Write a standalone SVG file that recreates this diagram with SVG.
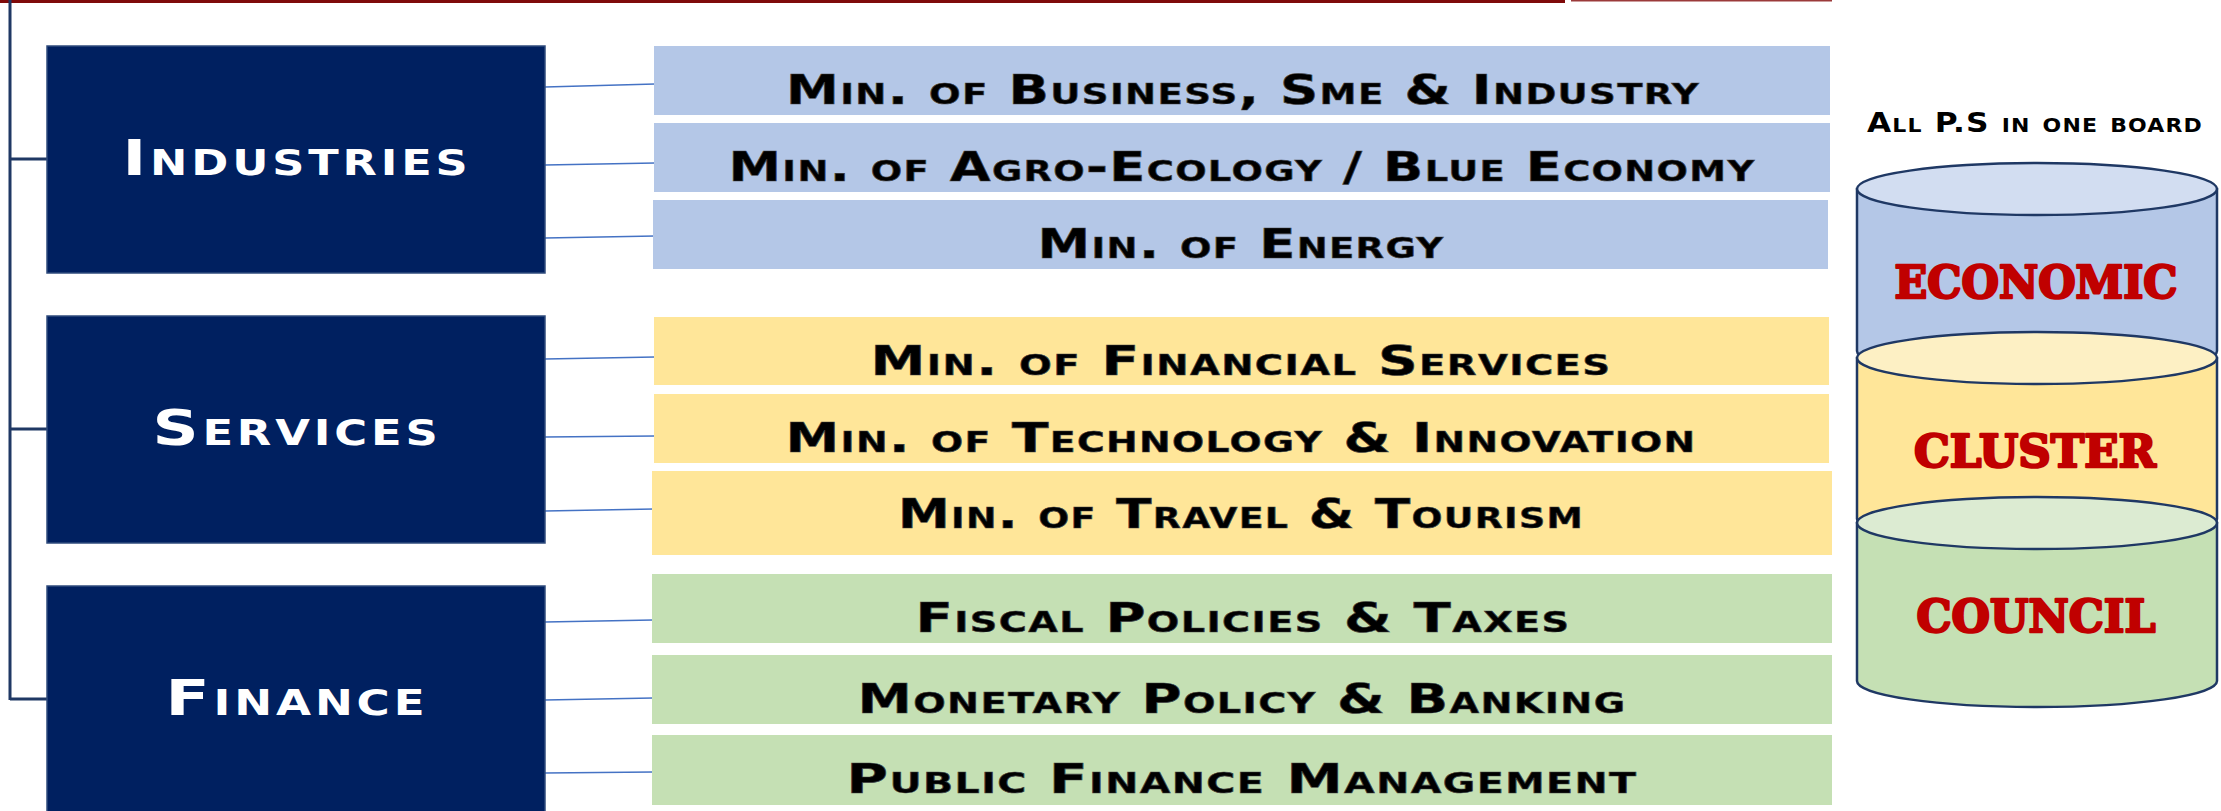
<svg xmlns="http://www.w3.org/2000/svg" width="2221" height="811" viewBox="0 0 2221 811">
<style>
.box{fill:#002060;stroke:#2f4b7c;stroke-width:1.5}
.boxtxt{font-family:"DejaVu Sans",sans-serif;font-weight:bold;font-size:50px;fill:#ffffff;font-variant:small-caps;text-anchor:middle;letter-spacing:3px}
.bar-b{fill:#b4c7e7}
.bar-y{fill:#ffe699}
.bar-g{fill:#c5e0b4}
.bartxt{font-family:"DejaVu Sans",sans-serif;font-weight:bold;font-size:40px;fill:#000000;font-variant:small-caps;text-anchor:middle;letter-spacing:1px;stroke:#404040;stroke-width:0.6}
.conn{stroke:#4472c4;stroke-width:1.6;fill:none}
.tree{stroke:#1f3864;stroke-width:3;fill:none}
.cyl{stroke:#1f3864;stroke-width:2.5}
.cyltxt{font-family:"DejaVu Serif",serif;font-weight:bold;font-size:45px;fill:#c00000;stroke:#c00000;stroke-width:2.5;stroke-linejoin:round;text-anchor:middle}
.head{font-family:"DejaVu Sans",sans-serif;font-weight:bold;font-size:27px;fill:#000000;font-variant:small-caps;text-anchor:middle;letter-spacing:1px}
</style>
<rect x="0" y="0" width="2221" height="811" fill="#ffffff"/>
<g id="topline">
<rect x="0" y="0" width="1565" height="3" fill="#7f0a0a"/>
<rect x="1571" y="0" width="261" height="1.5" fill="#9b3a3a"/>
</g>
<g id="connectors">
<path class="tree" d="M10,0 L10,700 M10,159 L47,159 M10,429 L47,429 M10,699 L47,699"/>
<line class="conn" x1="545" y1="87" x2="655" y2="84"/>
<line class="conn" x1="545" y1="165" x2="655" y2="163"/>
<line class="conn" x1="545" y1="238" x2="655" y2="236"/>
<line class="conn" x1="545" y1="359" x2="655" y2="357"/>
<line class="conn" x1="545" y1="437" x2="655" y2="436"/>
<line class="conn" x1="545" y1="511" x2="654" y2="509"/>
<line class="conn" x1="545" y1="622" x2="653" y2="620"/>
<line class="conn" x1="545" y1="700" x2="653" y2="698"/>
<line class="conn" x1="545" y1="773" x2="653" y2="772"/>
</g>
<g id="industries">
<rect class="box" x="47" y="46" width="498" height="227"/>
<text class="boxtxt" x="297" y="175" textLength="349" lengthAdjust="spacingAndGlyphs">Industries</text>
</g>
<g id="services">
<rect class="box" x="47" y="316" width="498" height="227"/>
<text class="boxtxt" x="297" y="445" textLength="289" lengthAdjust="spacingAndGlyphs">Services</text>
</g>
<g id="finance">
<rect class="box" x="47" y="586" width="498" height="235"/>
<text class="boxtxt" x="297" y="715" textLength="263" lengthAdjust="spacingAndGlyphs">Finance</text>
</g>
<g id="min-business">
<rect class="bar-b" x="654" y="46" width="1176" height="69"/>
<text class="bartxt" x="1243" y="104" textLength="914" lengthAdjust="spacingAndGlyphs">Min. of Business, Sme &amp; Industry</text>
</g>
<g id="min-agro">
<rect class="bar-b" x="654" y="123" width="1176" height="69"/>
<text class="bartxt" x="1242" y="181" textLength="1027" lengthAdjust="spacingAndGlyphs">Min. of Agro-Ecology / Blue Economy</text>
</g>
<g id="min-energy">
<rect class="bar-b" x="653" y="200" width="1175" height="69"/>
<text class="bartxt" x="1241" y="258" textLength="407" lengthAdjust="spacingAndGlyphs">Min. of Energy</text>
</g>
<g id="min-financial">
<rect class="bar-y" x="654" y="317" width="1175" height="68"/>
<text class="bartxt" x="1241" y="375" textLength="741" lengthAdjust="spacingAndGlyphs">Min. of Financial Services</text>
</g>
<g id="min-technology">
<rect class="bar-y" x="654" y="394" width="1175" height="69"/>
<text class="bartxt" x="1241" y="452" textLength="911" lengthAdjust="spacingAndGlyphs">Min. of Technology &amp; Innovation</text>
</g>
<g id="min-travel">
<rect class="bar-y" x="652" y="471" width="1180" height="84"/>
<text class="bartxt" x="1241" y="528" textLength="686" lengthAdjust="spacingAndGlyphs">Min. of Travel &amp; Tourism</text>
</g>
<g id="fiscal">
<rect class="bar-g" x="652" y="574" width="1180" height="69"/>
<text class="bartxt" x="1243" y="632" textLength="655" lengthAdjust="spacingAndGlyphs">Fiscal Policies &amp; Taxes</text>
</g>
<g id="monetary">
<rect class="bar-g" x="652" y="655" width="1180" height="69"/>
<text class="bartxt" x="1242" y="713" textLength="769" lengthAdjust="spacingAndGlyphs">Monetary Policy &amp; Banking</text>
</g>
<g id="public-finance">
<rect class="bar-g" x="652" y="735" width="1180" height="70"/>
<text class="bartxt" x="1242" y="793" textLength="791" lengthAdjust="spacingAndGlyphs">Public Finance Management</text>
</g>
<g id="board-title">
<text class="head" x="2035" y="132" textLength="336" lengthAdjust="spacingAndGlyphs">All P.S in one board</text>
</g>
<g id="cylinder">
<path class="cyl" fill="#b4c7e7" d="M1857,189 L1857,351 A180,26 0 0 0 2217,351 L2217,189 Z"/>
<ellipse class="cyl" fill="#d2ddf1" cx="2037" cy="189" rx="180" ry="26"/>
<path class="cyl" fill="#ffe699" d="M1857,358 L1857,519 A180,26 0 0 0 2217,519 L2217,358 Z"/>
<ellipse class="cyl" fill="#fdf0c4" cx="2037" cy="358" rx="180" ry="26"/>
<path class="cyl" fill="#c5e0b4" d="M1857,523 L1857,681 A180,26 0 0 0 2217,681 L2217,523 Z"/>
<ellipse class="cyl" fill="#dcebd2" cx="2037" cy="523" rx="180" ry="26"/>
<text class="cyltxt" x="2036" y="298" textLength="283" lengthAdjust="spacingAndGlyphs">ECONOMIC</text>
<text class="cyltxt" x="2035" y="467" textLength="242" lengthAdjust="spacingAndGlyphs">CLUSTER</text>
<text class="cyltxt" x="2036" y="632" textLength="239" lengthAdjust="spacingAndGlyphs">COUNCIL</text>
</g>
</svg>
